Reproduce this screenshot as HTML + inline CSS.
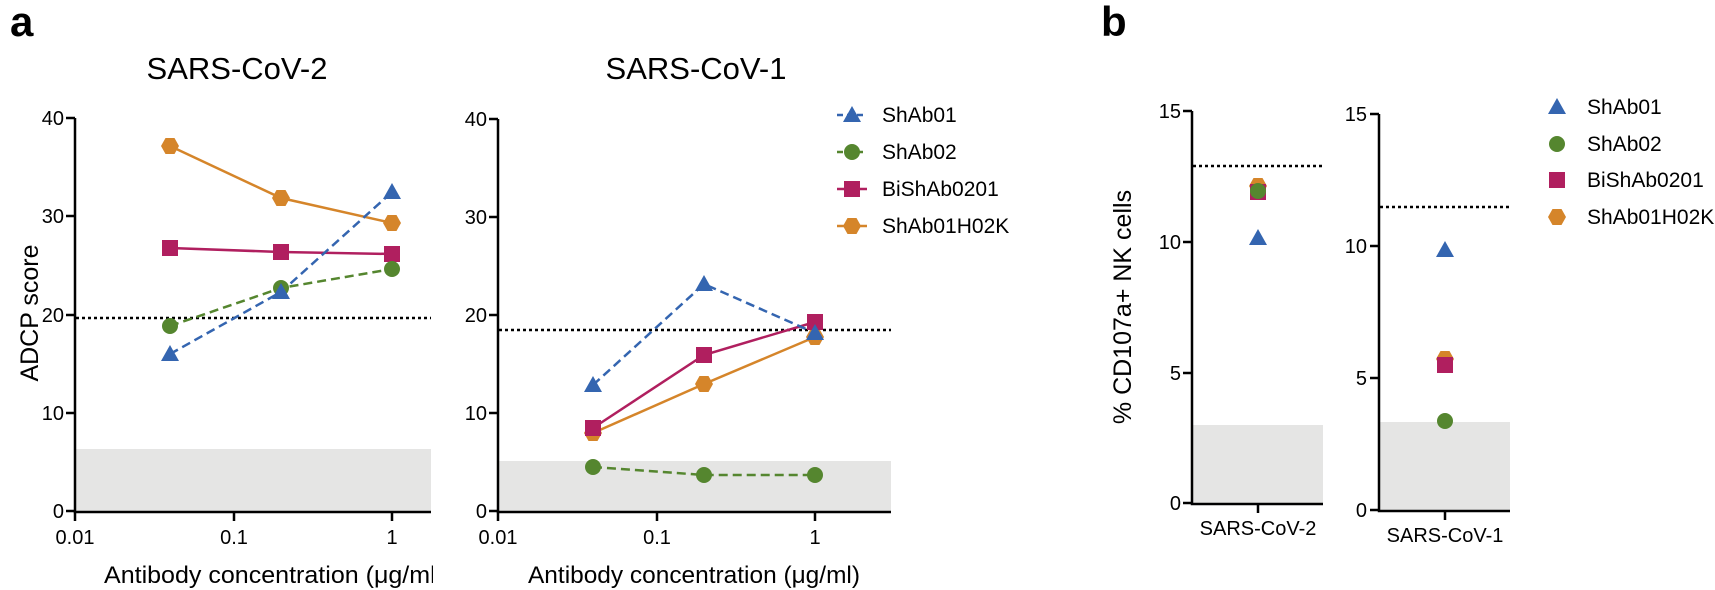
<!DOCTYPE html>
<html><head><meta charset="utf-8"><style>
html,body{margin:0;padding:0;background:#fff;}
svg{display:block;font-family:"Liberation Sans",Arial,sans-serif;}
</style></head><body>
<svg width="1715" height="590" viewBox="0 0 1715 590" xmlns="http://www.w3.org/2000/svg">
<defs>
<clipPath id="c1"><rect x="0" y="540" width="433" height="50"/></clipPath>
<g id="tri"><polygon points="0,-9 9,7 -9,7"/></g>
<g id="hex"><polygon points="-9,0 -4.5,-8 4.5,-8 9,0 4.5,8 -4.5,8"/></g>
</defs>
<text x="10" y="36" font-size="42" font-weight="bold">a</text>
<text x="1101" y="36" font-size="42" font-weight="bold">b</text>

<!-- Panel a1 -->
<text x="237" y="79" font-size="31" text-anchor="middle">SARS-CoV-2</text>
<rect x="76" y="449" width="355" height="62" fill="#e5e5e4"/>
<line x1="76" y1="318" x2="431" y2="318" stroke="#000" stroke-width="2.5" stroke-dasharray="3,3"/>
<g stroke="#000" stroke-width="2.5" fill="none">
<path d="M75,118 V512 H431"/>
<path d="M66,118H75M66,216H75M66,315H75M66,413H75M66,511H75"/>
<path d="M75,511V521M234,511V521M392,511V521"/>
</g>
<g font-size="20" text-anchor="end">
<text x="64" y="125">40</text><text x="64" y="223">30</text><text x="64" y="322">20</text><text x="64" y="420">10</text><text x="64" y="518">0</text>
</g>
<g font-size="20" text-anchor="middle">
<text x="75" y="544">0.01</text><text x="234" y="544">0.1</text><text x="392" y="544">1</text>
</g>
<text x="104" y="583" font-size="24" clip-path="url(#c1)" textLength="340" lengthAdjust="spacingAndGlyphs">Antibody concentration (μg/ml)</text>
<text transform="translate(38,313) rotate(-90)" font-size="25" text-anchor="middle">ADCP score</text>
<polyline points="170,146 281,198 392,223" fill="none" stroke="#d5852a" stroke-width="2.5"/>
<polyline points="170,248 281,252 392,254" fill="none" stroke="#b01f5f" stroke-width="2.5"/>
<polyline points="170,326 281,288 392,269" fill="none" stroke="#55862f" stroke-width="2.5" stroke-dasharray="9,5"/>
<polyline points="170,354 281,292 392,192" fill="none" stroke="#3465b0" stroke-width="2.5" stroke-dasharray="9,5"/>
<g fill="#d5852a"><use href="#hex" x="170" y="146"/><use href="#hex" x="281" y="198"/><use href="#hex" x="392" y="223"/></g>
<g fill="#b01f5f"><rect x="162" y="240" width="16" height="16"/><rect x="273" y="244" width="16" height="16"/><rect x="384" y="246" width="16" height="16"/></g>
<g fill="#55862f"><circle cx="170" cy="326" r="8"/><circle cx="281" cy="288" r="8"/><circle cx="392" cy="269" r="8"/></g>
<g fill="#3465b0"><use href="#tri" x="170" y="354"/><use href="#tri" x="281" y="292"/><use href="#tri" x="392" y="192"/></g>

<!-- Panel a2 -->
<text x="696" y="79" font-size="31" text-anchor="middle">SARS-CoV-1</text>
<rect x="499" y="461" width="392" height="50" fill="#e5e5e4"/>
<line x1="499" y1="330" x2="891" y2="330" stroke="#000" stroke-width="2.5" stroke-dasharray="3,3"/>
<g stroke="#000" stroke-width="2.5" fill="none">
<path d="M498,119 V512 H891"/>
<path d="M489,119H498M489,217H498M489,315H498M489,413H498M489,511H498"/>
<path d="M498,511V521M657,511V521M815,511V521"/>
</g>
<g font-size="20" text-anchor="end">
<text x="487" y="126">40</text><text x="487" y="224">30</text><text x="487" y="322">20</text><text x="487" y="420">10</text><text x="487" y="518">0</text>
</g>
<g font-size="20" text-anchor="middle">
<text x="498" y="544">0.01</text><text x="657" y="544">0.1</text><text x="815" y="544">1</text>
</g>
<text x="528" y="583" font-size="24" textLength="332" lengthAdjust="spacingAndGlyphs">Antibody concentration (μg/ml)</text>
<polyline points="593,433 704,384 815,337" fill="none" stroke="#d5852a" stroke-width="2.5"/>
<polyline points="593,428 704,355 815,322" fill="none" stroke="#b01f5f" stroke-width="2.5"/>
<polyline points="593,467 704,475 815,475" fill="none" stroke="#55862f" stroke-width="2.5" stroke-dasharray="9,5"/>
<polyline points="593,385 704,284 815,333" fill="none" stroke="#3465b0" stroke-width="2.5" stroke-dasharray="9,5"/>
<g fill="#d5852a"><use href="#hex" x="593" y="433"/><use href="#hex" x="704" y="384"/><use href="#hex" x="815" y="337"/></g>
<g fill="#b01f5f"><rect x="585" y="420" width="16" height="16"/><rect x="696" y="347" width="16" height="16"/><rect x="807" y="314" width="16" height="16"/></g>
<g fill="#55862f"><circle cx="593" cy="467" r="8"/><circle cx="704" cy="475" r="8"/><circle cx="815" cy="475" r="8"/></g>
<g fill="#3465b0"><use href="#tri" x="593" y="385"/><use href="#tri" x="704" y="284"/><use href="#tri" x="815" y="333"/></g>

<!-- legend a -->
<g font-size="21">
<line x1="837" y1="115" x2="867" y2="115" stroke="#3465b0" stroke-width="2.5" stroke-dasharray="6,4"/><use href="#tri" x="852" y="115" fill="#3465b0"/><text x="882" y="122">ShAb01</text>
<line x1="837" y1="152" x2="867" y2="152" stroke="#55862f" stroke-width="2.5" stroke-dasharray="6,4"/><circle cx="852" cy="152" r="8" fill="#55862f"/><text x="882" y="159">ShAb02</text>
<line x1="837" y1="189" x2="867" y2="189" stroke="#b01f5f" stroke-width="2.5"/><rect x="844" y="181" width="16" height="16" fill="#b01f5f"/><text x="882" y="196">BiShAb0201</text>
<line x1="837" y1="226" x2="867" y2="226" stroke="#d5852a" stroke-width="2.5"/><use href="#hex" x="852" y="226" fill="#d5852a"/><text x="882" y="233">ShAb01H02K</text>
</g>

<!-- Panel b1 -->
<rect x="1193" y="425" width="130" height="78" fill="#e5e5e4"/>
<line x1="1193" y1="166" x2="1323" y2="166" stroke="#000" stroke-width="2.5" stroke-dasharray="3,3"/>
<g stroke="#000" stroke-width="2.5" fill="none">
<path d="M1192,111 V504 H1323"/>
<path d="M1183,111H1192M1183,242H1192M1183,373H1192M1183,503H1192"/>
<path d="M1258,503V513"/>
</g>
<g font-size="20" text-anchor="end">
<text x="1181" y="118">15</text><text x="1181" y="249">10</text><text x="1181" y="380">5</text><text x="1181" y="510">0</text>
</g>
<text x="1258" y="535" font-size="20" text-anchor="middle">SARS-CoV-2</text>
<text transform="translate(1131,307) rotate(-90)" font-size="25" text-anchor="middle">% CD107a+ NK cells</text>
<use href="#hex" x="1258" y="186" fill="#d5852a"/>
<rect x="1250" y="184" width="16" height="16" fill="#b01f5f"/>
<circle cx="1258" cy="191" r="8" fill="#55862f"/>
<use href="#tri" x="1258" y="238" fill="#3465b0"/>

<!-- Panel b2 -->
<rect x="1380" y="422" width="130" height="88" fill="#e5e5e4"/>
<line x1="1380" y1="207" x2="1510" y2="207" stroke="#000" stroke-width="2.5" stroke-dasharray="3,3"/>
<g stroke="#000" stroke-width="2.5" fill="none">
<path d="M1379,114 V511 H1510"/>
<path d="M1370,114H1379M1370,246H1379M1370,378H1379M1370,510H1379"/>
<path d="M1445,510V520"/>
</g>
<g font-size="20" text-anchor="end">
<text x="1367" y="121">15</text><text x="1367" y="253">10</text><text x="1367" y="385">5</text><text x="1367" y="517">0</text>
</g>
<text x="1445" y="542" font-size="20" text-anchor="middle">SARS-CoV-1</text>
<use href="#tri" x="1445" y="250" fill="#3465b0"/>
<use href="#hex" x="1445" y="359" fill="#d5852a"/>
<rect x="1437" y="357" width="16" height="16" fill="#b01f5f"/>
<circle cx="1445" cy="421" r="8" fill="#55862f"/>

<!-- legend b -->
<g font-size="21">
<use href="#tri" x="1557" y="107" fill="#3465b0"/><text x="1587" y="114">ShAb01</text>
<circle cx="1557" cy="144" r="8" fill="#55862f"/><text x="1587" y="151">ShAb02</text>
<rect x="1549" y="172" width="16" height="16" fill="#b01f5f"/><text x="1587" y="187">BiShAb0201</text>
<use href="#hex" x="1557" y="217" fill="#d5852a"/><text x="1587" y="224">ShAb01H02K</text>
</g>
</svg>
</body></html>
